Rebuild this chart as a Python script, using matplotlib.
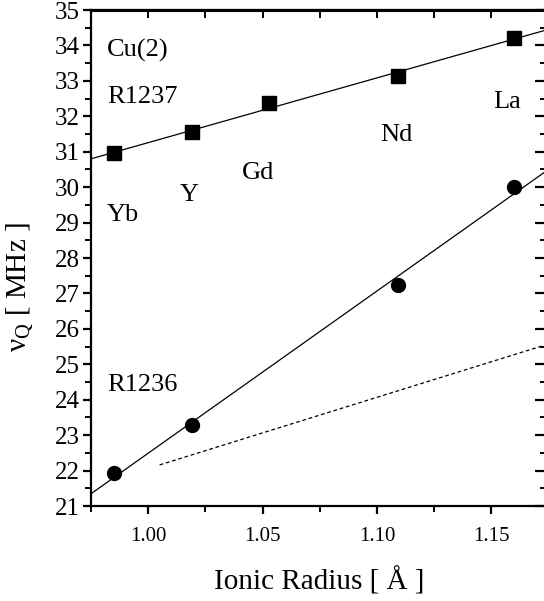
import matplotlib
matplotlib.use('Agg')
import matplotlib.pyplot as plt
import numpy as np

plt.rcParams['font.family'] = ['Liberation Serif', 'DejaVu Serif']
plt.rcParams['mathtext.fontset'] = 'custom'
plt.rcParams['mathtext.rm'] = 'Liberation Serif'
plt.rcParams['mathtext.it'] = 'Liberation Serif:italic'

# ionic radii (A) and quadrupole frequencies (MHz)
elements = ['Yb', 'Y', 'Gd', 'Nd', 'La']
radius = [0.985, 1.019, 1.053, 1.109, 1.160]
nu_r1237 = [30.96, 31.56, 32.37, 33.14, 34.21]
radius_r1236 = [0.985, 1.019, 1.109, 1.160]
nu_r1236 = [21.93, 23.29, 27.24, 30.00]
# dashed reference line
dash_x = [1.005, 1.1743]
dash_y = [22.16, 25.56]

fig = plt.figure(figsize=(5.44, 6.01), dpi=100)
ax = fig.add_axes([91 / 544, 95 / 601, 456 / 544, 496 / 601])

xmin, xmax = 0.975, 1.1743
xx = np.array([xmin, xmax])

# linear fits through each series
p1 = np.polyfit(radius, nu_r1237, 1)
p2 = np.polyfit(radius_r1236, nu_r1236, 1)
ax.plot(xx, np.polyval(p1, xx), color='black', lw=0.9)
ax.plot(xx, np.polyval(p2, xx), color='black', lw=0.9)
ax.plot(dash_x, dash_y, color='black', lw=0.9, linestyle=(0, (3, 2.2)))

ax.plot(radius, nu_r1237, 's', color='black', markersize=10)
ax.plot(radius_r1236, nu_r1236, 'o', color='black', markersize=10)

ax.set_xlim(xmin, xmax)
ax.set_ylim(21, 35)
ax.set_xticks([1.00, 1.05, 1.10, 1.15])
ax.set_xticklabels(['1.00', '1.05', '1.10', '1.15'])
ax.set_xticks(np.arange(0.975, 1.17, 0.025), minor=True)
ax.set_yticks(np.arange(21, 36, 1))
ax.set_yticks(np.arange(21, 35.01, 0.5), minor=True)

for s in ax.spines.values():
    s.set_linewidth(1.6)

ax.tick_params(axis='both', which='major', direction='out', length=6, width=1.6,
               top=False, right=False)
ax.tick_params(axis='both', which='minor', direction='out', length=4, width=1.4,
               top=False, right=False)
ax.tick_params(axis='y', which='major', labelsize=18, pad=2)
ax.tick_params(axis='x', which='major', labelsize=15, pad=9)

# inward ticks on top and right
top = ax.secondary_xaxis('top')
top.set_xticks(np.arange(1.00, 1.17, 0.025))
top.tick_params(direction='in', length=6, width=1.4, labeltop=False)
top.spines['top'].set_linewidth(2.2)
right = ax.secondary_yaxis('right')
right.set_yticks(np.arange(21, 36, 1))
right.set_yticks(np.arange(21, 35.01, 0.5), minor=True)
right.tick_params(which='major', direction='in', length=9, width=1.6, labelright=False)
right.tick_params(which='minor', direction='in', length=5, width=1.4, labelright=False)

ax.set_xlabel('Ionic Radius [ Å ]', fontsize=21, labelpad=15)
fig.text(20 / 544, 1 - 287 / 601, r'ν$_{\mathrm{Q}}$ [ MHz ]', fontsize=21,
         rotation=90, ha='center', va='center')

lab = dict(fontsize=19, ha='left', va='center')
ax.text(0.982, 33.87, 'Cu(2)', **lab)
ax.text(0.982, 32.54, 'R1237', **lab)
ax.text(0.982, 24.42, 'R1236', **lab)
label_pos = [(0.9817, 29.21), (1.014, 29.78), (1.041, 30.40), (1.1013, 31.47), (1.1507, 32.40)]
for name, (lx, ly) in zip(elements, label_pos):
    ax.text(lx, ly, name, **lab)

fig.savefig('out.png', dpi=100)
